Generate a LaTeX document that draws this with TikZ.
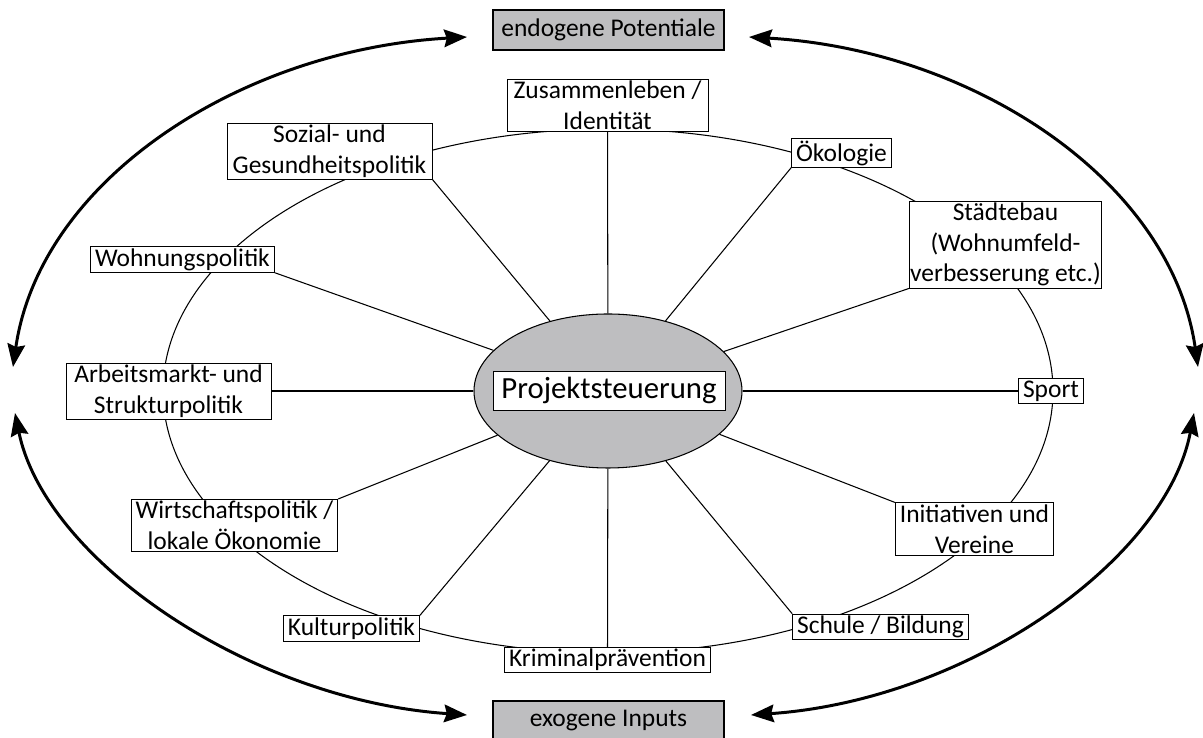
\documentclass[tikz,border=0pt]{standalone}
\usepackage{fontspec}
\setmainfont{Carlito}
\usetikzlibrary{arrows.meta, positioning, shapes.geometric}
\definecolor{boxgray}{RGB}{190,190,192}

\begin{document}
\begin{tikzpicture}[
  field/.style={draw, fill=white, line width=0.5pt, align=center, inner xsep=2.5pt, inner ysep=1pt, font=\fontsize{14.5}{17.5}\selectfont},
  frame/.style={draw, fill=boxgray, line width=0.6pt, minimum width=4.62cm, minimum height=0.8cm, font=\fontsize{14.5}{17}\selectfont},
  spoke/.style={line width=0.6pt},
  flow/.style={line width=1.7pt, {Stealth[length=13pt,width=10pt,inset=1.5pt]}-{Stealth[length=13pt,width=10pt,inset=1.5pt]}},
]
\useasboundingbox (-12.16,-6.94) rectangle (11.9,7.82);

% ring behind the boxes
\draw[spoke] (0,0) ellipse [x radius=8.9cm, y radius=5.24cm];

% centre
\node[ellipse, draw, fill=boxgray, line width=0.6pt, minimum width=5.36cm, minimum height=3.08cm] (pst) at (0,0) {};
\node[draw, fill=white, line width=0.5pt, minimum width=4.64cm, minimum height=0.78cm, font=\fontsize{17.5}{20}\selectfont] (pstlabel) at (0.02,0.01) {Projektsteuerung};

% fields of action
\node[field, minimum width=4.02cm] (zus) at (-0.01,5.71) {Zusammenleben /\\Identität};
\node[field, minimum width=4.1cm] (soz) at (-5.57,4.8) {Sozial- und\\Gesundheitspolitik};
\node[field] (oek) at (4.67,4.76) {Ökologie};
\node[field, inner xsep=0.5pt] (stb) at (7.95,2.93) {Städtebau\\(Wohnumfeld-\\verbesserung etc.)};
\node[field] (wohn) at (-8.51,2.63) {Wohnungspolitik};
\node[field, minimum width=4.1cm] (arb) at (-8.79,0) {Arbeitsmarkt- und\\Strukturpolitik};
\node[field] (sport) at (8.86,0) {Sport};
\node[field, minimum width=4.1cm] (wirt) at (-7.47,-2.69) {Wirtschaftspolitik /\\lokale Ökonomie};
\node[field] (init) at (7.33,-2.76) {Initiativen und\\Vereine};
\node[field] (kult) at (-5.13,-4.75) {Kulturpolitik};
\node[field, minimum width=4.02cm] (krim) at (-0.01,-5.38) {Kriminalprävention};
\node[field] (schule) at (5.45,-4.72) {Schule / Bildung};

% spokes
\draw[spoke] (zus) -- (pst);
\draw[spoke] (soz.south east) -- (pst);
\draw[spoke] (oek.south west) -- (pst);
\draw[spoke] (stb.south west) -- (pst);
\draw[spoke] (wohn.south east) -- (pst);
\draw[spoke] (arb) -- (pst);
\draw[spoke] (sport) -- (pst);
\draw[spoke] (wirt.north east) -- (pst);
\draw[spoke] (init.north west) -- (pst);
\draw[spoke] (kult.north east) -- (pst);
\draw[spoke] (schule.north west) -- (pst);
\draw[spoke] (krim) -- (pst);

% outer frame
\node[frame] (endo) at (0.01,7.22) {endogene Potentiale};
\node[frame] (exo) at (0.01,-6.6) {exogene Inputs};

\coordinate (endoL) at (-2.82,7.08);
\coordinate (endoR) at (2.82,7.08);
\coordinate (exoL) at (-2.82,-6.48);
\coordinate (exoR) at (2.86,-6.48);
\coordinate (westU) at (-11.9,0.48);
\coordinate (westD) at (-11.86,-0.44);
\coordinate (eastU) at (11.8,0.48);
\coordinate (eastD) at (11.72,-0.44);

\draw[flow] (westU) .. controls (-11.36,4.22) and (-7.36,6.82) .. (endoL);
\draw[flow] (eastU) .. controls (11.26,4.22) and (7.3,6.82) .. (endoR);
\draw[flow] (westD) .. controls (-11.26,-3.38) and (-7.16,-6.18) .. (exoL);
\draw[flow] (eastD) .. controls (11.16,-3.38) and (7.2,-6.18) .. (exoR);
\end{tikzpicture}
\end{document}
